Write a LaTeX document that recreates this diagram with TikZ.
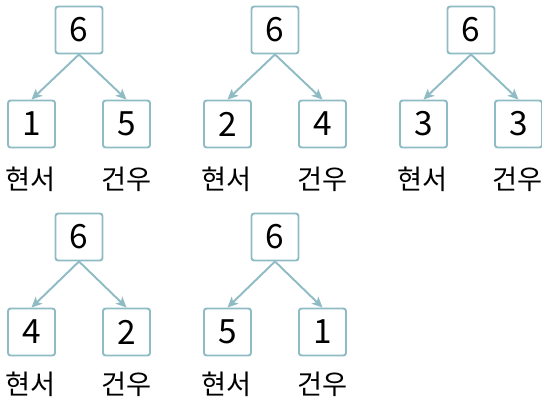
\documentclass[tikz,border=0pt]{standalone}
\usepackage{fontspec}
\setmainfont{Noto Sans CJK KR}
\usetikzlibrary{arrows.meta, positioning}
\definecolor{boxstroke}{HTML}{8FBCC4}

\begin{document}
\begin{tikzpicture}[
    every node/.style={font=\fontsize{19}{22}\selectfont},
    numbox/.style={draw=boxstroke, fill=white, line width=1.1pt, rounded corners=1.5pt, minimum size=0.94cm, inner sep=0pt},
    split/.style={-{Stealth[length=6pt, width=5.5pt, inset=1.5pt]}, line width=1.1pt, boxstroke},
    who/.style={inner sep=0pt, font=\fontsize{15.5}{18}\selectfont}
]
\useasboundingbox (0,0) rectangle (10.84,8.04);

% 1 + 5
\node[numbox] (ta) at (1.58, 7.44) {6};
\node[numbox] (la) at (0.63, 5.56) {1};
\node[numbox] (ra) at (2.53, 5.56) {5};
\node[who] (hla) at (0.62, 4.45) {현서};
\node[who] (gra) at (2.54, 4.45) {건우};
\draw[split] (ta.south) -- (la.north);
\draw[split] (ta.south) -- (ra.north);

% 2 + 4
\node[numbox] (tb) at (5.50, 7.44) {6};
\node[numbox] (lb) at (4.55, 5.56) {2};
\node[numbox] (rb) at (6.45, 5.56) {4};
\node[who] (hlb) at (4.54, 4.45) {현서};
\node[who] (grb) at (6.46, 4.45) {건우};
\draw[split] (tb.south) -- (lb.north);
\draw[split] (tb.south) -- (rb.north);

% 3 + 3
\node[numbox] (tc) at (9.42, 7.44) {6};
\node[numbox] (lc) at (8.47, 5.56) {3};
\node[numbox] (rc) at (10.37, 5.56) {3};
\node[who] (hlc) at (8.46, 4.45) {현서};
\node[who] (grc) at (10.36, 4.45) {건우};
\draw[split] (tc.south) -- (lc.north);
\draw[split] (tc.south) -- (rc.north);

% 4 + 2
\node[numbox] (td) at (1.58, 3.30) {6};
\node[numbox] (ld) at (0.63, 1.40) {4};
\node[numbox] (rd) at (2.53, 1.40) {2};
\node[who] (hld) at (0.62, 0.35) {현서};
\node[who] (grd) at (2.54, 0.35) {건우};
\draw[split] (td.south) -- (ld.north);
\draw[split] (td.south) -- (rd.north);

% 5 + 1
\node[numbox] (te) at (5.50, 3.30) {6};
\node[numbox] (le) at (4.55, 1.40) {5};
\node[numbox] (re) at (6.45, 1.40) {1};
\node[who] (hle) at (4.54, 0.35) {현서};
\node[who] (gre) at (6.46, 0.35) {건우};
\draw[split] (te.south) -- (le.north);
\draw[split] (te.south) -- (re.north);

\end{tikzpicture}
\end{document}
